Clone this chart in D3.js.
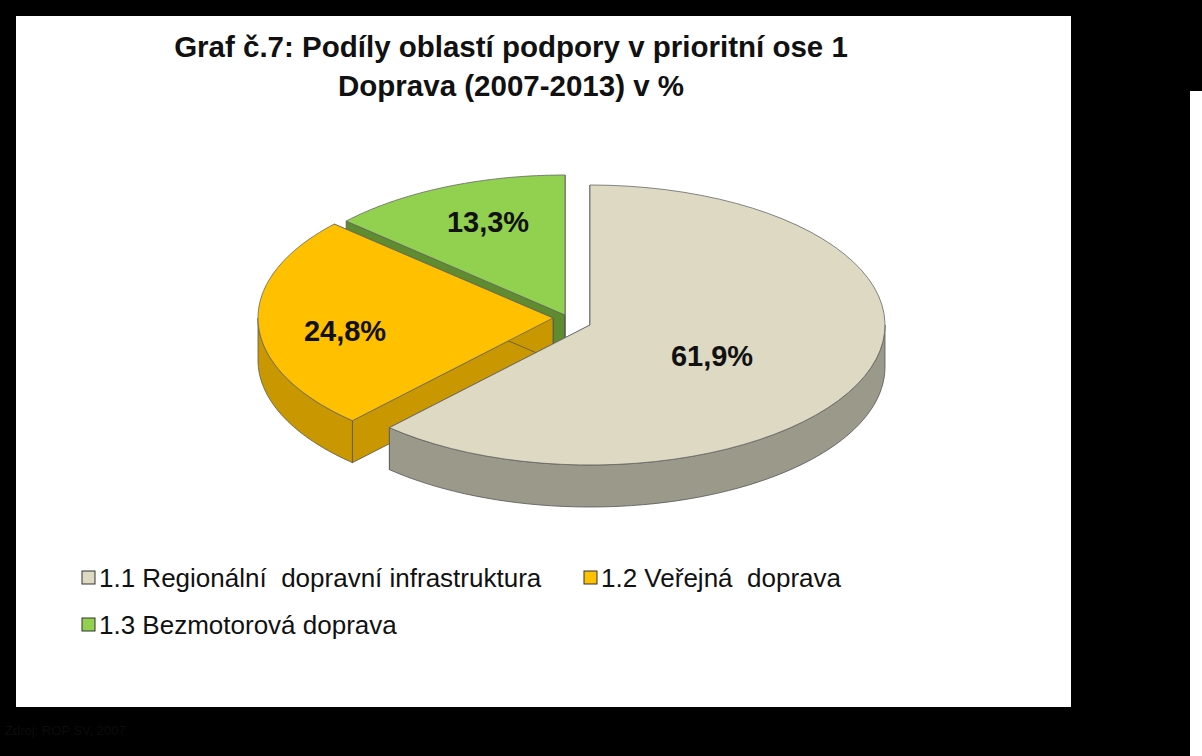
<!DOCTYPE html><html><head><meta charset="utf-8">
<script src="https://cdn.jsdelivr.net/npm/d3@7"></script>
<style>body{margin:0;background:#000}svg{display:block}text{white-space:pre}</style></head><body>
<script>
const categories=["1.1 Regionální  dopravní infrastruktura","1.2 Veřejná  doprava","1.3 Bezmotorová doprava"];
const values=[61.9,24.8,13.3];
const labels=["61,9%","24,8%","13,3%"];
const topColors=["#ddd9c3","#ffc000","#92d050"];
const sideColors=["#9b998a","#c99700","#5e8c2f"];
const centers=[[590,325],[553,318],[565,315]];
const W=1202,H=756,rx=295,ry=140,depth=42;
const svg=d3.select("body").append("svg").attr("width",W).attr("height",H);
svg.append("rect").attr("width",W).attr("height",H).attr("fill","#000");
svg.append("rect").attr("x",16).attr("y",16).attr("width",1055).attr("height",691).attr("fill","#fff");
svg.append("rect").attr("x",1190).attr("y",91).attr("width",12).attr("height",665).attr("fill","#fff");
svg.append("text").attr("x",5).attr("y",735).attr("font-family","Liberation Sans Narrow, Liberation Sans, Arial").attr("font-size",13).attr("fill","#0c0c0c").text("Zdroj: ROP SV, 2007");
const t=svg.append("text").attr("text-anchor","middle").attr("font-family","Liberation Sans, Arial").attr("font-weight","bold").attr("font-size",29.5).attr("fill","#111");
t.append("tspan").attr("x",511).attr("y",57).text("Graf č.7: Podíly oblastí podpory v prioritní ose 1");
t.append("tspan").attr("x",511).attr("y",96).text("Doprava (2007-2013) v %");
const arcs=d3.pie().sort(null).value(d=>d)(values);
function pt(c,a,dz=0){return [c[0]+rx*Math.sin(a),c[1]-ry*Math.cos(a)+dz];}
function arcPts(c,a0,a1,dz){const n=60,p=[];for(let i=0;i<=n;i++)p.push(pt(c,a0+(a1-a0)*i/n,dz));return p;}
const line=d3.line();
[2,1,0].forEach(i=>{
  const a=arcs[i],c=centers[i],g=svg.append("g");
  [a.startAngle,a.endAngle].forEach(an=>{
    const p=pt(c,an);
    g.append("path").attr("d",line([c,p,[p[0],p[1]+depth],[c[0],c[1]+depth]])+"Z").attr("fill",sideColors[i]).attr("stroke","#555").attr("stroke-width",0.8);
  });
  const a0=Math.max(a.startAngle,Math.PI/2),a1=Math.min(a.endAngle,1.5*Math.PI);
  if(a1>a0){
    const top=arcPts(c,a0,a1,0),bot=arcPts(c,a0,a1,depth).reverse();
    g.append("path").attr("d",line(top.concat(bot))+"Z").attr("fill",sideColors[i]).attr("stroke","#555").attr("stroke-width",0.8);
  }
  g.append("path").attr("d",line([c].concat(arcPts(c,a.startAngle,a.endAngle,0)))+"Z").attr("fill",topColors[i]).attr("stroke","#666").attr("stroke-width",0.8);
});
const lpos=[[712,356],[345,331],[488,222]];
labels.forEach((l,i)=>svg.append("text").attr("x",lpos[i][0]).attr("y",lpos[i][1]+10).attr("text-anchor","middle").attr("font-family","Liberation Sans, Arial").attr("font-weight","bold").attr("font-size",29).attr("fill","#111").text(l));
const leg=[[82,578],[584,578],[82,625]];
categories.forEach((c,i)=>{
  svg.append("rect").attr("x",leg[i][0]).attr("y",leg[i][1]-7).attr("width",13).attr("height",13).attr("fill",topColors[i]).attr("stroke","#333").attr("stroke-width",1);
  svg.append("text").attr("x",leg[i][0]+17).attr("y",leg[i][1]+9).attr("font-family","Liberation Sans, Arial").attr("font-size",26).attr("fill","#111").text(c);
});
</script></body></html>
